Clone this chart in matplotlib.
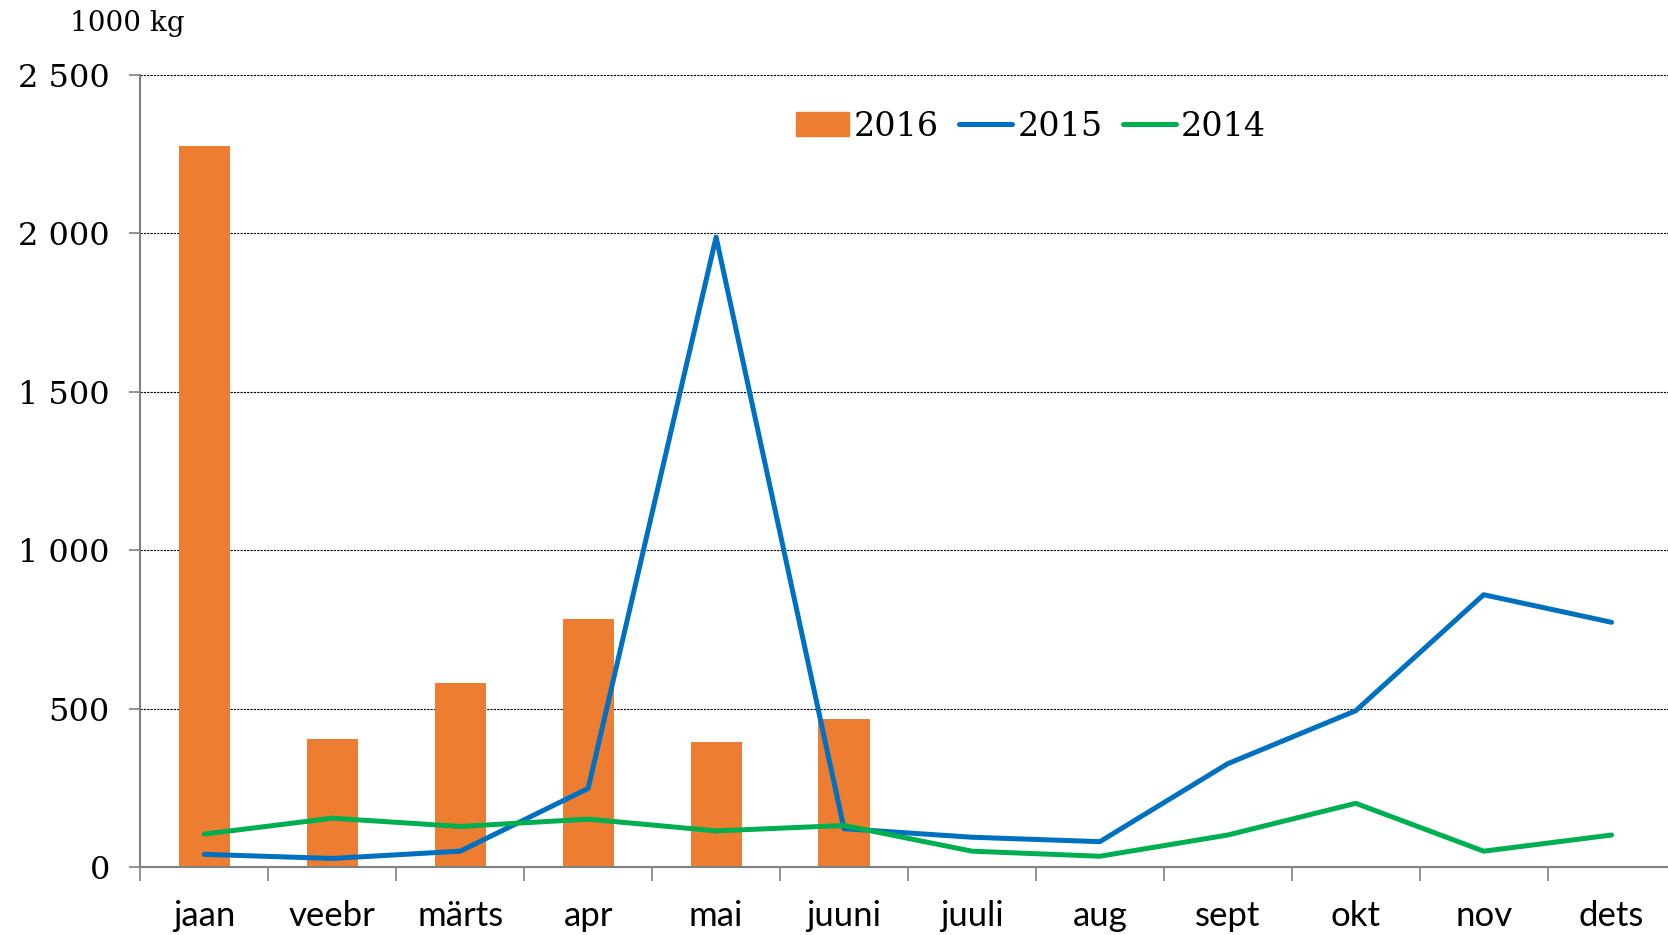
import numpy as np
import matplotlib.pyplot as plt
from matplotlib.patches import Patch
from matplotlib.lines import Line2D

# kuud ja andmed (1000 kg)
months = ["jaan", "veebr", "märts", "apr", "mai", "juuni",
          "juuli", "aug", "sept", "okt", "nov", "dets"]
y2016 = [2275, 403, 581, 782, 393, 466]
y2015 = [40, 27, 50, 248, 1987, 121, 94, 80, 326, 493, 859, 772]
y2014 = [104, 154, 128, 151, 114, 131, 50, 34, 101, 201, 50, 101]
yticks = [0, 500, 1000, 1500, 2000, 2500]
ylabels = ["0", "500", "1 000", "1 500", "2 000", "2 500"]

c16 = "#ED7D31"
c15 = "#0070C0"
c14 = "#00B050"
serif = "DejaVu Serif"

fig = plt.figure(figsize=(16.68, 9.35), dpi=100)
ax = fig.add_axes([0.0842, 0.0727, 0.9203, 0.8476])

x = np.arange(len(months))
ax.bar(x[:len(y2016)], y2016, width=0.4, color=c16, zorder=2)
ax.plot(x, y2015, color=c15, lw=3.6, zorder=3, solid_capstyle="round")
ax.plot(x, y2014, color=c14, lw=3.6, zorder=3, solid_capstyle="round")

ax.set_xlim(-0.5, 11.5)
ax.set_ylim(0, 2500)

# y telg
ax.set_yticks(yticks)
ax.set_yticklabels(ylabels, fontfamily=serif, fontsize=23)
ax.tick_params(axis="y", length=8, width=1.2, color="#808080", pad=14)
ax.grid(axis="y", color="black", lw=0.8, linestyle=(0, (2, 1)), zorder=1)

# x telg: sildid kategooriate keskel, kriipsud vahel
ax.set_xticks(x)
ax.set_xticklabels(months, fontfamily="Lato", fontsize=25)
ax.tick_params(axis="x", which="major", length=0, pad=24)
ax.set_xticks(np.arange(-0.5, 12, 1), minor=True)
ax.tick_params(axis="x", which="minor", length=10, width=1.2, color="#808080")

for s in ["top", "right"]:
    ax.spines[s].set_visible(False)
for s in ["left", "bottom"]:
    ax.spines[s].set_color("#808080")
    ax.spines[s].set_linewidth(1.5)

fig.text(0.042, 0.975, "1000 kg", fontfamily=serif, fontsize=20,
         va="center", ha="left")

handles = [Patch(color=c16), Line2D([], [], color=c15, lw=3.6, solid_capstyle="round"),
           Line2D([], [], color=c14, lw=3.6, solid_capstyle="round")]
leg = ax.legend(handles, ["2016", "2015", "2014"], ncol=3, frameon=False,
                loc="center", bbox_to_anchor=(0.580, 0.934),
                prop={"family": serif, "size": 24},
                handlelength=1.6, handletextpad=0.15, columnspacing=0.6)

fig.savefig("out.png", dpi=100)
